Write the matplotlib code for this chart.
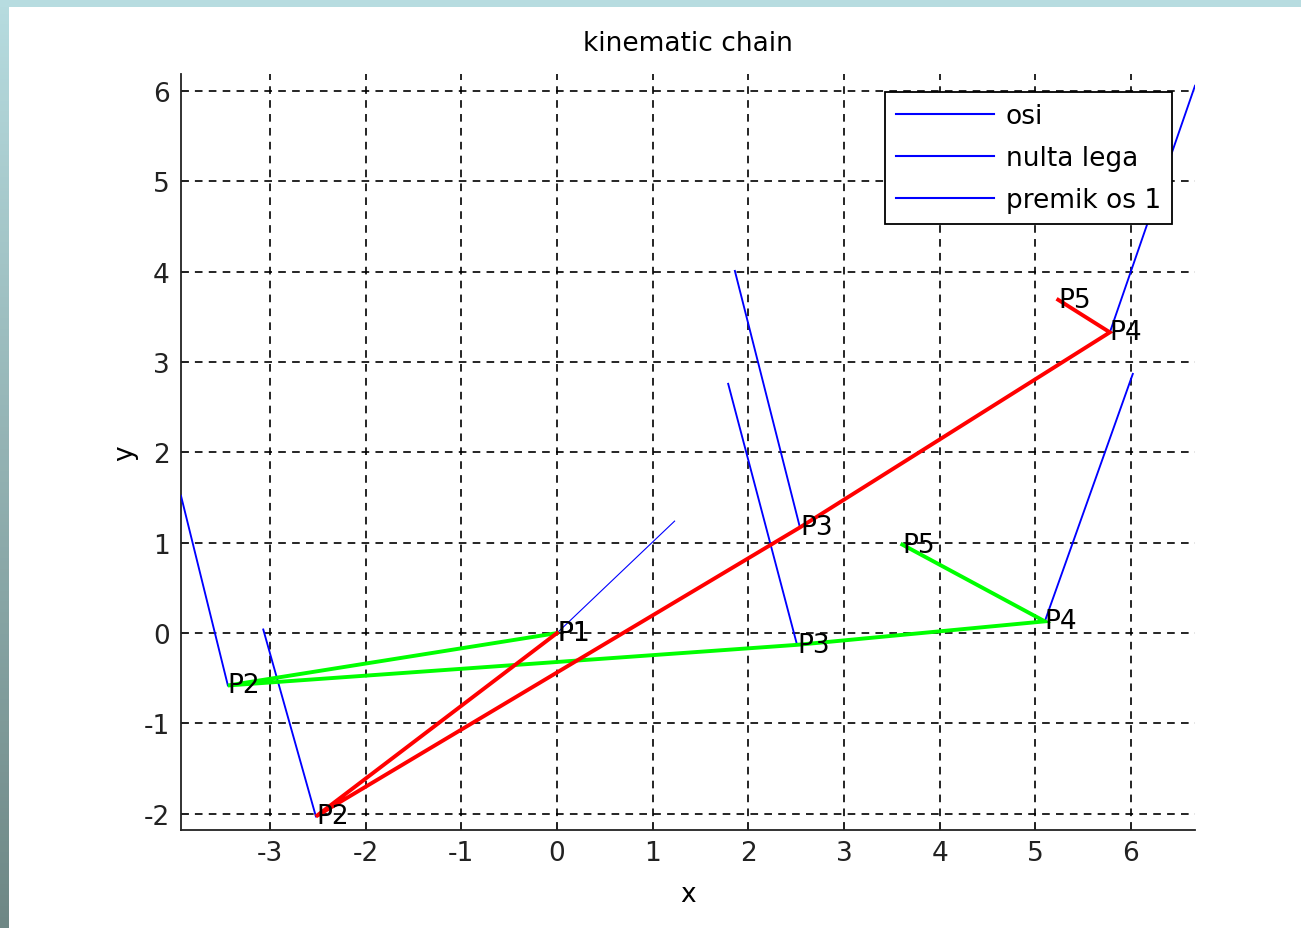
import numpy as np
import matplotlib
matplotlib.use("Agg")
import matplotlib.pyplot as plt

# ---- data ----
labels = ["P1", "P2", "P3", "P4", "P5"]
red_x = [0.0, -2.52, 2.54, 5.78, 5.24]
red_y = [0.0, -2.03, 1.17, 3.33, 3.69]
green_x = [0.0, -3.44, 2.51, 5.10, 3.61]
green_y = [0.0, -0.58, -0.13, 0.13, 0.98]

# blue joint-axis segments: (x0, x1), (y0, y1)
axis_x = [(0.0, 1.23), (-3.44, -3.93), (-2.52, -3.07), (2.51, 1.79),
          (2.54, 1.86), (5.10, 6.02), (5.78, 6.67)]
axis_y = [(0.0, 1.24), (-0.58, 1.52), (-2.03, 0.04), (-0.13, 2.76),
          (1.17, 4.01), (0.13, 2.87), (3.33, 6.06)]
legend_labels = ["osi", "nulta lega", "premik os 1"]

xticks = list(range(-3, 7))
yticks = list(range(-2, 7))

plt.rcParams['font.family'] = ['DejaVu Sans']
plt.rcParams['lines.scale_dashes'] = False
plt.rcParams['axes.unicode_minus'] = False

FS = 19

W, H = 1301, 929
fig = plt.figure(figsize=(W / 100, H / 100), dpi=100)
fig.patch.set_facecolor('white')

# decorative frame strips
top_c = np.array([183, 220, 224]) / 255
bot_c = np.array([110, 135, 133]) / 255
axl = fig.add_axes([0, 0, 9 / W, 1])
grad = np.linspace(0, 1, 256)[:, None, None]
img = top_c[None, None, :] * (1 - grad) + bot_c[None, None, :] * grad
axl.imshow(img, aspect='auto', extent=[0, 1, 0, 1])
axl.axis('off')
axt = fig.add_axes([0, 1 - 8 / H, 1, 8 / H])
axt.set_facecolor(top_c)
axt.set_xticks([]); axt.set_yticks([])
for s in axt.spines.values():
    s.set_visible(False)

ax = fig.add_axes([181 / W, 1 - 831 / H, (1195 - 181) / W, (831 - 75) / H])

blue_lines = []
for i, (xs, ys) in enumerate(zip(axis_x, axis_y)):
    lw = 0.8 if i == 0 else 1.35
    ln, = ax.plot(xs, ys, color='#0000ff', lw=lw, zorder=3)
    blue_lines.append(ln)

ax.plot(green_x, green_y, color='#00ff00', lw=2.8, zorder=4, solid_joinstyle='miter')
ax.plot(red_x, red_y, color='#ff0000', lw=2.8, zorder=5, solid_joinstyle='miter')

for lab, x, y in zip(labels, green_x, green_y):
    ax.text(x, y, lab, fontsize=FS, ha='left', va='center', color='black', zorder=6)
for lab, x, y in zip(labels, red_x, red_y):
    ax.text(x, y, lab, fontsize=FS, ha='left', va='center', color='black', zorder=6)

ax.set_xlim(-3.93, 6.67)
ax.set_ylim(-2.18, 6.19)
ax.set_xticks(xticks)
ax.set_yticks(yticks)
ax.tick_params(direction='in', length=6, width=1.1, labelsize=FS, pad=8, colors='#222222')
ax.tick_params(axis='x', pad=7)
ax.spines['top'].set_visible(False)
ax.spines['right'].set_visible(False)
for s in ('left', 'bottom'):
    ax.spines[s].set_linewidth(1.3)
    ax.spines[s].set_color('#222222')

ax.grid(True, color='black', linestyle=(0, (5.5, 4.5)), linewidth=1.2, zorder=1)
ax.set_axisbelow(True)

ax.set_title('kinematic chain', fontsize=FS, pad=17)
ax.set_xlabel('x', fontsize=FS, labelpad=11)
ax.set_ylabel('y', fontsize=FS, labelpad=4)

leg = ax.legend(blue_lines[1:4], legend_labels, loc='upper right',
                bbox_to_anchor=((1172 - 181) / (1195 - 181), (831 - 93) / (831 - 75)),
                fontsize=FS, frameon=True, fancybox=False, framealpha=1,
                edgecolor='black', handlelength=3.7, handletextpad=0.45,
                labelspacing=0.6, borderpad=0.42, borderaxespad=0)
leg.get_frame().set_linewidth(1.3)
for h in leg.get_lines():
    h.set_linewidth(1.5)
leg.set_zorder(10)

fig.savefig('out.png', dpi=100, facecolor='white')
